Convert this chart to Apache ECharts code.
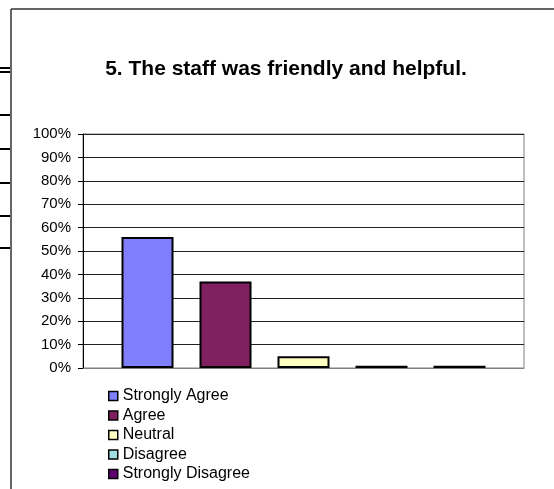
<!DOCTYPE html>
<html>
<head>
<meta charset="utf-8">
<script src="https://cdn.jsdelivr.net/npm/echarts@6/dist/echarts.min.js"></script>
<style>html,body{margin:0;padding:0;background:#fff}#c{width:554px;height:489px}</style>
</head>
<body>
<div id="c"></div>
<script>
var titleText = "5. The staff was friendly and helpful.";
var seriesNames = ["Strongly Agree", "Agree", "Neutral", "Disagree", "Strongly Disagree"];
var seriesValues = [56, 37, 5, 1, 1];
var seriesColors = ["#8080FF", "#802060", "#FFFFC0", "#A0E0E0", "#600070"];
var yTicks = [0, 10, 20, 30, 40, 50, 60, 70, 80, 90, 100];

var chart = echarts.init(document.getElementById('c'), null, {renderer: 'canvas'});
var series = seriesNames.map(function (n, i) {
  return {
    name: n,
    type: 'bar',
    data: [seriesValues[i]],
    barWidth: 52,
    barGap: '50%',
    itemStyle: {color: seriesColors[i], borderColor: '#000', borderWidth: 2},
    emphasis: {disabled: true}
  };
});
var leftTicks = [68, 72, 115, 149, 183, 216, 248];
var graphics = [
  {type: 'line', shape: {x1: 11, y1: 9, x2: 554, y2: 9}, style: {stroke: '#333', lineWidth: 1.5}, silent: true},
  {type: 'line', shape: {x1: 11, y1: 9, x2: 11, y2: 489}, style: {stroke: '#333', lineWidth: 1.5}, silent: true}
];
leftTicks.forEach(function (y) {
  graphics.push({type: 'line', shape: {x1: 0, y1: y, x2: 10, y2: y}, style: {stroke: '#000', lineWidth: 2}, silent: true});
});

chart.setOption({
  animation: false,
  backgroundColor: '#fff',
  title: {
    text: titleText,
    left: 286, top: 59, textAlign: 'center', padding: 0,
    textStyle: {fontFamily: 'Liberation Sans, Arial', fontWeight: 'bold', fontSize: 21, color: '#000'}
  },
  grid: {left: 83, top: 134, width: 441, height: 234, show: true, borderColor: '#808080', borderWidth: 1, containLabel: false},
  legend: {
    orient: 'vertical', left: 108, top: 388, padding: 0,
    data: seriesNames,
    icon: 'rect', itemWidth: 9, itemHeight: 9, itemGap: 3.5,
    itemStyle: {borderColor: '#000', borderWidth: 1.5},
    textStyle: {fontFamily: 'Liberation Sans, Arial', fontSize: 16, color: '#000', lineHeight: 16},
    selectedMode: false
  },
  xAxis: {
    type: 'category', data: [''],
    axisLine: {lineStyle: {color: '#808080', width: 1}},
    axisTick: {show: false}, axisLabel: {show: false}
  },
  yAxis: {
    type: 'value', min: yTicks[0], max: yTicks[yTicks.length - 1], interval: 10,
    axisLine: {show: true, lineStyle: {color: '#000', width: 1}},
    axisTick: {show: true, length: 5, lineStyle: {color: '#000'}},
    axisLabel: {formatter: '{value}%', fontFamily: 'Liberation Sans, Arial', fontSize: 15, color: '#000', margin: 12},
    splitLine: {lineStyle: {color: '#222', width: 1}}
  },
  graphic: graphics,
  series: series
});
</script>
</body>
</html>
